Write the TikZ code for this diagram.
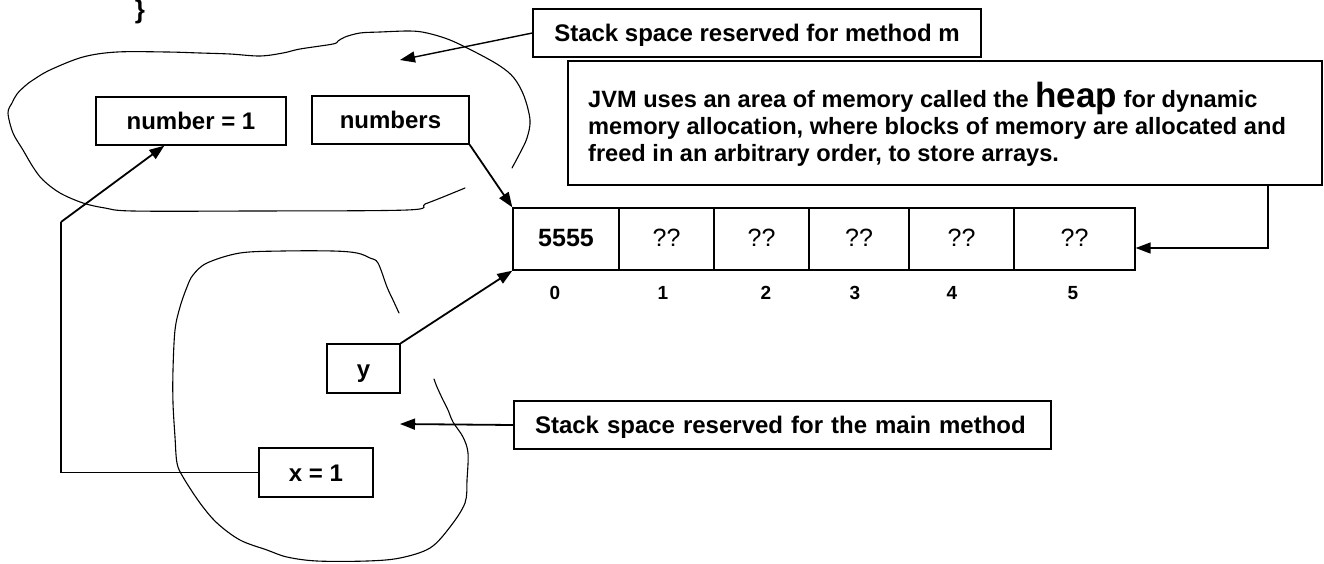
\documentclass[tikz,border=0pt]{standalone}
\usepackage{fontspec}
\setmainfont{Liberation Sans}
\usetikzlibrary{arrows.meta}
\begin{document}
\begin{tikzpicture}[x=1pt,y=-1pt,
  every node/.style={font=\bfseries\fontsize{24}{27.6}\selectfont, inner sep=0pt},
  box/.style={draw, line width=1.3pt, minimum height=48pt, text height=17.2pt, text depth=0pt},
  cell/.style={draw, line width=1.3pt, minimum height=62pt, text height=17.9pt, text depth=3pt},
  qq/.style={font=\mdseries\fontsize{25}{25}\selectfont},
  idx/.style={font=\bfseries\fontsize{19}{19}\selectfont},
  heapline/.style={anchor=base west, font=\bfseries\fontsize{23.6}{27}\selectfont},
  arr/.style={line width=1.8pt, -{Triangle[length=15pt,width=11pt]}},
  conn/.style={line width=1.4pt},
  blob/.style={line width=1.1pt, line join=round, line cap=round}]
\useasboundingbox (0,0) rectangle (1324,563);

% brace
\node[anchor=base, font=\bfseries\fontsize{26}{26}\selectfont] (brace) at (140,18) {\}};

% boxes
\node[box, minimum width=448pt] (mbox) at (757,33) {Stack space reserved for method m};
\node[box, text width=495pt, inner xsep=21pt, align=left] (mainbox) at (782.5,425) {Stack space reserved for the main method};
\node[draw, line width=1.3pt, minimum width=754pt, minimum height=124pt] (heapbox) at (945,123) {};
\node[heapline] (h1) at (588,107) {JVM uses an area of memory called the {\fontsize{35}{35}\selectfont heap} for dynamic};
\node[heapline] (h2) at (588,134) {memory allocation, where blocks of memory are allocated and};
\node[heapline] (h3) at (588,161) {freed in an arbitrary order, to store arrays.};

\node[box, minimum width=190pt] (num1) at (191,121) {number = 1};
\node[box, minimum width=157pt] (nums) at (390.5,120) {numbers};
\node[box, minimum width=73pt, minimum height=49pt] (ybox) at (363.5,368.5) {y};
\node[box, minimum width=114pt, minimum height=49pt] (x1) at (316,472.5) {x = 1};

% array
\node[cell, minimum width=106pt, font=\bfseries\fontsize{25}{25}\selectfont] (c0) at (566,239) {5555};
\node[cell, qq, minimum width=95pt] (c1) at (666.5,239) {??};
\node[cell, qq, minimum width=95pt] (c2) at (761.5,239) {??};
\node[cell, qq, minimum width=100pt] (c3) at (859,239) {??};
\node[cell, qq, minimum width=105pt] (c4) at (961.5,239) {??};
\node[cell, qq, minimum width=121pt] (c5) at (1074.5,239) {??};

\node[idx] (i0) at (555,293) {0};
\node[idx] (i1) at (663,293) {1};
\node[idx] (i2) at (766,293) {2};
\node[idx] (i3) at (855,293) {3};
\node[idx] (i4) at (952,293) {4};
\node[idx] (i5) at (1073,293) {5};

% stack blobs
\draw[blob] plot[smooth, tension=0.55] coordinates {
  (512,168) (520,153) (527,138) (530,120) (524,96) (514,78) (500,66) (477,53)
  (450,40) (427,33) (410,31) (380,32) (360,33) (345,37) (338,41) (333,44)
  (300,49) (283,53) (260,56) (230,54) (200,53) (167,52) (117,52) (83,57)
  (50,70) (33,80) (25,86) (17,94) (12,103) (8,113) (13,133) (23,150)
  (33,167) (43,180) (60,193) (83,203) (105,208) (133,211) (250,211)
  (407,210) (425,204) (443,197) (465,188)};
\draw[blob] plot[smooth, tension=0.55] coordinates {
  (399,313) (393,300) (387,287) (378,263) (370,258) (357,253) (333,251)
  (283,251) (240,253) (207,263) (193,275) (187,287) (180,307) (175,330)
  (173,370) (173,403) (175,437) (177,463) (183,477) (200,503) (217,523)
  (240,540) (267,550) (287,557) (317,561) (367,561) (400,558) (430,548)
  (450,527) (465,503) (467,480) (468,453) (463,437) (453,422) (448,410)
  (443,400) (437,387) (434,379)};

% connectors
\coordinate (mtip) at (400,60);
\draw[arr, line width=1.4pt] (mbox.west) -- (mtip);
\draw[arr] (nums.south east) -- (c0.north west);
\draw[arr] (ybox.north east) -- (c0.south west);
\coordinate (maintip) at (400,424);
\draw[arr] (mainbox.west) -- (maintip);
\coordinate (k1) at (61,222);
\draw[conn] (x1.west) -| (k1);
\draw[arr] (k1) -- ([xshift=69pt]num1.south west);
\coordinate (hk) at (1268,248);
\draw[arr, line width=1.5pt] (hk |- heapbox.south) -- (hk) -- (c5.east |- hk);
\end{tikzpicture}
\end{document}
